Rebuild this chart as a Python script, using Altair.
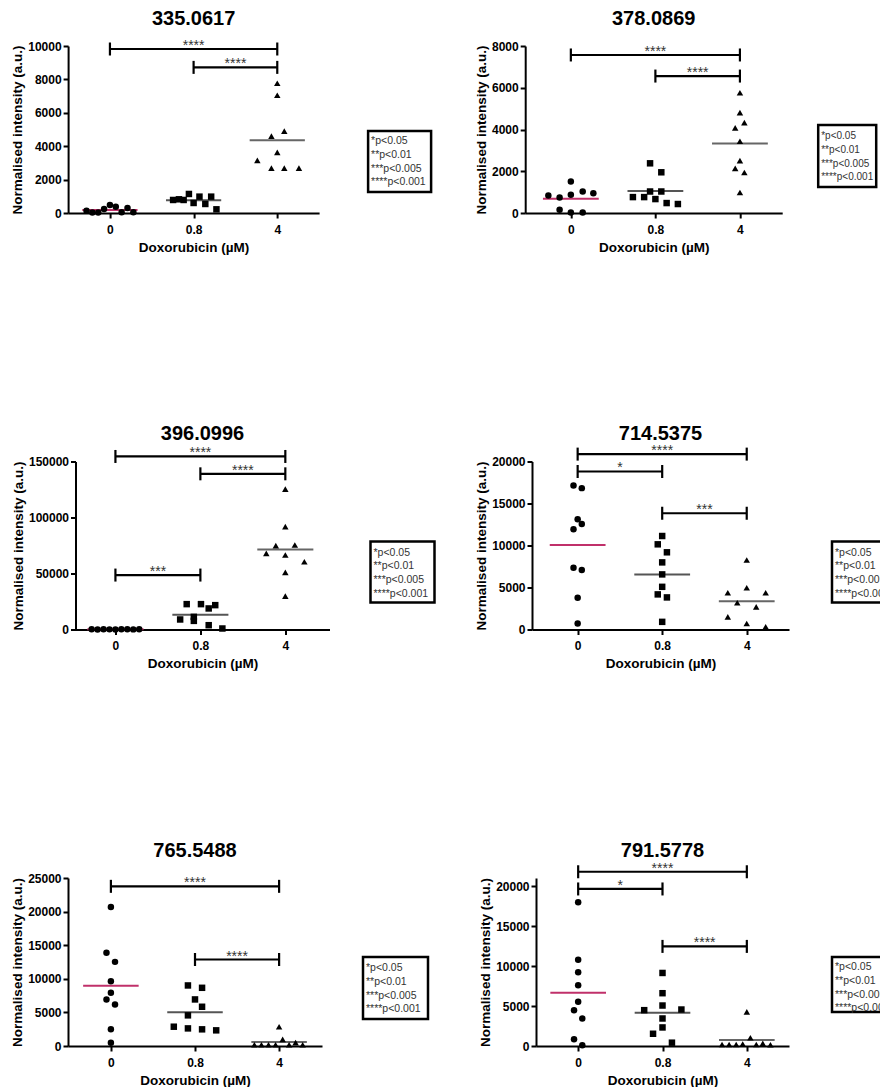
import json
import altair as alt
import pandas as pd

FONT = "Liberation Sans"
CATEGORIES = ["0", "0.8", "4"]
SHAPES = ["circle", "square", "triangle-up"]
MEAN_COLORS = ["#C0306A", "#555555", "#666666"]
X_TITLE = "Doxorubicin (µM)"
Y_TITLE = "Normalised intensity (a.u.)"
LEGEND_LINES = ["*p<0.05", "**p<0.01", "***p<0.005", "****p<0.001"]
TITLES = ["335.0617", "378.0869", "396.0996", "714.5375", "765.5488", "791.5778"]
Y_MAX = [10000, 8000, 150000, 20000, 25000, 21000]
Y_TICK_MAX = [10000, 8000, 150000, 20000, 25000, 20000]
Y_TICK_STEP = [2000, 2000, 50000, 5000, 5000, 5000]

# 335.0617
A_CTRL = [140, 30, 30, 240, 480, 380, 40, 300, 40]
A_CTRL_LANE = [-4, -3, -2, -1, 0, 1, 2, 3, 4]
A_LOW = [780, 820, 780, 1140, 600, 980, 540, 980, 220]
A_LOW_LANE = [-3.5, -2.5, -1.7, -0.8, 0, 1, 2, 3, 3.9]
A_HIGH = [7770, 7050, 4600, 4900, 3630, 3150, 2690, 2690, 2690]
A_HIGH_LANE = [0, 0, -1, 1.2, 0, -3.4, -1, 1.2, 3.7]
A_BRACKETS = [("0", "4", 9820, "****"), ("0.8", "4", 8720, "****")]

# 378.0869
B_CTRL = [843, 748, 875, 1510, 1030, 950, 160, 20, 20]
B_CTRL_LANE = [-3.8, -1.9, 0, 0, 2, 3.8, -1.9, 0, 2]
B_LOW = [2380, 1950, 1030, 1030, 762, 762, 667, 476, 430]
B_LOW_LANE = [-0.9, 1, -0.9, 1, -3.8, -1.9, 0, 1.9, 3.8]
B_HIGH = [5760, 4810, 4080, 4330, 3440, 2510, 2140, 1940, 985]
B_HIGH_LANE = [0, 0, -0.8, 0.75, 0, 0, -0.8, 0.75, 0]
B_BRACKETS = [("0", "4", 7570, "****"), ("0.8", "4", 6560, "****")]

# 396.0996
C_CTRL = [150, 100, 180, 120, 90, 200, 140, 110, 160]
C_CTRL_LANE = [-4, -3, -2, -1, 0, 1, 2, 3, 4]
C_LOW = [22650, 22650, 21750, 18800, 8950, 11300, 7700, 3850, 900]
C_LOW_LANE = [-2.3, 0.1, 2.5, 1.4, -3.4, -1.1, -1.1, 1.4, 3.7]
C_HIGH = [125300, 91850, 74850, 75470, 68000, 66500, 60500, 51000, 29800]
C_HIGH_LANE = [0, 0, -1.6, 1.6, -3.2, 0, 3.2, 0, 0]
C_BRACKETS = [("0", "4", 154500, "****"), ("0.8", "4", 139000, "****"),
              ("0", "0.8", 48600, "***")]

# 714.5375
D_CTRL = [17140, 16830, 13130, 12570, 11930, 7350, 7080, 3770, 715]
D_CTRL_LANE = [-0.7, 0.7, 0, 0.7, -0.7, -0.7, 0.7, 0, 0]
D_LOW = [11130, 10140, 9190, 7990, 6560, 5080, 4180, 3820, 910]
D_LOW_LANE = [0, -0.75, 0.8, 0, 0, 0, -0.75, 0.8, 0]
D_HIGH = [8270, 4970, 4370, 4370, 3180, 2700, 1500, 715, 320]
D_HIGH_LANE = [0, 0, -3.2, 3.2, -1.6, 1.6, -3.2, 0, 3.2]
D_BRACKETS = [("0", "4", 20880, "****"), ("0", "0.8", 18810, "*"),
              ("0.8", "4", 13840, "***")]

# 765.5488
E_CTRL = [20690, 13860, 12520, 9650, 7920, 6930, 6190, 2480, 500]
E_CTRL_LANE = [0, -0.75, 0.7, 0, 0, -0.75, 0.7, 0, 0]
E_LOW = [9010, 8660, 6930, 5840, 4560, 2870, 2620, 2480, 2330]
E_LOW_LANE = [-1.2, 1.2, 0, 1.2, -1.2, -3.6, -1.2, 1.2, 3.6]
E_HIGH = [2870, 990, 500, 180, 180, 180, 180, 180, 180]
E_HIGH_LANE = [0, 0.6, 2.8, -4.2, -3, -1.8, -0.6, 1.7, 4]
E_BRACKETS = [("0", "4", 23760, "****"), ("0.8", "4", 12870, "****")]

# 791.5778
F_CTRL = [17960, 10790, 9210, 7590, 5520, 4480, 3440, 830, 80]
F_CTRL_LANE = [0, 0, 0, 0, 0, -0.7, 0.7, -0.7, 0.7]
F_LOW = [9130, 6600, 5060, 4480, 4560, 3440, 1530, 2320, 415]
F_LOW_LANE = [0, 0, 0, -3.1, 3.2, 0, -1.6, 0, 1.6]
F_HIGH = [4270, 1030, 330, 180, 180, 180, 250, 180, 150]
F_HIGH_LANE = [0, 0.6, 2.7, -4.2, -3, -1.8, -0.7, 1.6, 4]
F_BRACKETS = [("0", "4", 21780, "****"), ("0", "0.8", 19630, "*"),
              ("0.8", "4", 12450, "****")]

# layout of each panel (plot size, x extent, legend box in pixels)
LAYOUT = [
    dict(w=251, h=167, xdom=[-0.5, 2.5], box=(300, 363, 85, 146), ty=95, fs=10.5),
    dict(w=257, h=167, xdom=[-0.54, 2.5], box=(293, 351, 79, 141), ty=90, fs=10),
    dict(w=254, h=168, xdom=[-0.47, 2.52], box=(295, 359, 80, 141), ty=91, fs=10.5),
    dict(w=257, h=168, xdom=[-0.54, 2.5], box=(300, 364, 80, 141), ty=91, fs=10.5),
    dict(w=254, h=168, xdom=[-0.51, 2.51], box=(295, 360, 79, 141), ty=90, fs=10.5),
    dict(w=253, h=168, xdom=[-0.5, 2.5], box=(296, 362, 79, 134), ty=89, fs=10.5),
]
# row placement: leading blank width and gap between panels
ROWS = [dict(lead=20.9, gap=41.1), dict(lead=25.0, gap=37.5), dict(lead=13.1, gap=48.0)]
LANE_UNIT = 0.07
LINE_STEP = 13.8


def panel(i, groups, brackets):
    lay = LAYOUT[i]
    rows = []
    for gi, (vals, lanes) in enumerate(groups):
        for v, l in zip(vals, lanes):
            rows.append({"g": gi, "cat": CATEGORIES[gi], "value": v, "lane": l})
    df = pd.DataFrame(rows)

    xs = alt.Scale(domain=lay["xdom"], nice=False, zero=False)
    ys = alt.Scale(domain=[0, Y_MAX[i]], nice=False, zero=True)
    xa = alt.Axis(values=list(range(len(CATEGORIES))),
                  labelExpr=json.dumps(CATEGORIES) + "[datum.value]",
                  title=X_TITLE)
    ya = alt.Axis(values=list(range(0, Y_TICK_MAX[i] + 1, Y_TICK_STEP[i])),
                  format="d", title=Y_TITLE)

    base = alt.Chart(df)
    pts = base.transform_calculate(
        xpos=f"datum.g + datum.lane * {LANE_UNIT}"
    ).mark_point(filled=True, size=42, opacity=1, color="black").encode(
        x=alt.X("xpos:Q", scale=xs, axis=xa),
        y=alt.Y("value:Q", scale=ys, axis=ya),
        shape=alt.Shape("cat:N", scale=alt.Scale(domain=CATEGORIES, range=SHAPES),
                        legend=None),
    )
    means = base.transform_aggregate(
        mean="mean(value)", groupby=["g", "cat"]
    ).transform_calculate(
        xa1="datum.g - 0.33", xa2="datum.g + 0.33"
    ).mark_rule(strokeWidth=2).encode(
        x=alt.X("xa1:Q", scale=xs, axis=xa),
        x2="xa2:Q",
        y=alt.Y("mean:Q", scale=ys, axis=ya),
        color=alt.Color("cat:N", scale=alt.Scale(domain=CATEGORIES, range=MEAN_COLORS),
                        legend=None),
    )

    bdf = pd.DataFrame([
        {"a": CATEGORIES.index(a), "b": CATEGORIES.index(b), "y": y, "label": s}
        for a, b, y, s in brackets
    ])
    bc = alt.Chart(bdf)
    bline = bc.mark_rule(strokeWidth=2.2, color="black").encode(
        x=alt.X("a:Q", scale=xs, axis=xa), x2="b:Q",
        y=alt.Y("y:Q", scale=ys, axis=ya))
    bends = bc.transform_fold(["a", "b"], as_=["end", "xe"]).mark_tick(
        orient="vertical", size=13, thickness=2.2, color="black", opacity=1
    ).encode(x=alt.X("xe:Q", scale=xs, axis=xa), y=alt.Y("y:Q", scale=ys, axis=ya))
    btext = bc.transform_calculate(mid="(datum.a + datum.b) / 2").mark_text(
        fontSize=14, baseline="alphabetic", dy=1, color="#333333", font=FONT
    ).encode(x=alt.X("mid:Q", scale=xs, axis=xa), y=alt.Y("y:Q", scale=ys, axis=ya),
             text="label:N")

    title = alt.Chart(pd.DataFrame({"t": [TITLES[i]]})).mark_text(
        fontSize=20, fontWeight="bold", baseline="middle", font=FONT, color="black"
    ).encode(x=alt.value(lay["w"] / 2), y=alt.value(-27.5), text="t:N")

    x0, x1, y0, y1 = lay["box"]
    box = alt.Chart(pd.DataFrame({"k": [0]})).mark_rect(
        fill="white", stroke="black", strokeWidth=2.5
    ).encode(x=alt.value(x0), x2=alt.value(x1), y=alt.value(y0), y2=alt.value(y1))
    texts = []
    for k, line in enumerate(LEGEND_LINES):
        texts.append(alt.Chart(pd.DataFrame({"t": [line]})).mark_text(
            align="left", baseline="middle", fontSize=lay["fs"], color="#333333",
            font=FONT
        ).encode(x=alt.value(x0 + 3), y=alt.value(lay["ty"] + k * LINE_STEP), text="t:N"))

    return alt.layer(means, bline, bends, btext, pts, title, box, *texts).properties(
        width=lay["w"], height=lay["h"])


def lead(w):
    # empty cell that fixes where a row starts
    return alt.Chart(pd.DataFrame({"k": [0]})).mark_rect(opacity=0).encode(
        x=alt.value(0), x2=alt.value(w), y=alt.value(0), y2=alt.value(1)
    ).properties(width=w, height=1)


p1 = panel(0, [(A_CTRL, A_CTRL_LANE), (A_LOW, A_LOW_LANE), (A_HIGH, A_HIGH_LANE)], A_BRACKETS)
p2 = panel(1, [(B_CTRL, B_CTRL_LANE), (B_LOW, B_LOW_LANE), (B_HIGH, B_HIGH_LANE)], B_BRACKETS)
p3 = panel(2, [(C_CTRL, C_CTRL_LANE), (C_LOW, C_LOW_LANE), (C_HIGH, C_HIGH_LANE)], C_BRACKETS)
p4 = panel(3, [(D_CTRL, D_CTRL_LANE), (D_LOW, D_LOW_LANE), (D_HIGH, D_HIGH_LANE)], D_BRACKETS)
p5 = panel(4, [(E_CTRL, E_CTRL_LANE), (E_LOW, E_LOW_LANE), (E_HIGH, E_HIGH_LANE)], E_BRACKETS)
p6 = panel(5, [(F_CTRL, F_CTRL_LANE), (F_LOW, F_LOW_LANE), (F_HIGH, F_HIGH_LANE)], F_BRACKETS)

row1 = alt.hconcat(lead(ROWS[0]["lead"]), p1, p2, spacing=ROWS[0]["gap"])
row2 = alt.hconcat(lead(ROWS[1]["lead"]), p3, p4, spacing=ROWS[1]["gap"])
row3 = alt.hconcat(lead(ROWS[2]["lead"]), p5, p6, spacing=ROWS[2]["gap"])

# the right-hand legend boxes run past the page edge in the reference: crop there
chart = alt.vconcat(row1, row2, row3, spacing=169.5).properties(
    padding={"left": -60, "top": 0, "right": -20, "bottom": 0}
).configure_view(stroke=None).configure_axis(
    grid=False, domainColor="black", domainWidth=2, tickColor="black", tickWidth=2,
    tickSize=5, labelFont=FONT, labelFontSize=12, labelFontWeight="bold",
    labelColor="black", titleFont=FONT, titleFontSize=13.5, titleFontWeight="bold",
    titleColor="black"
).configure_axisX(labelPadding=6, titlePadding=5).configure_axisY(
    labelPadding=2, titlePadding=3)

chart.save("out.html", embed_options={"renderer": "svg", "actions": False})
